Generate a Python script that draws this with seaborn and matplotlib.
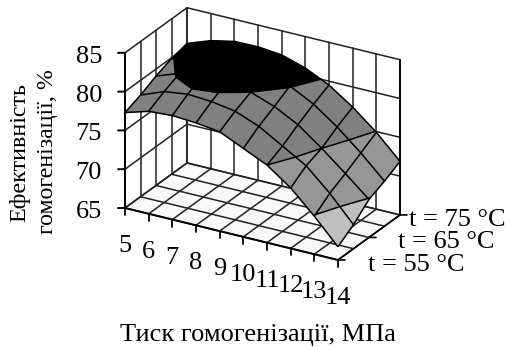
import numpy as np
import pandas as pd
import seaborn as sns
import matplotlib
matplotlib.use('Agg')
import matplotlib.pyplot as plt
from mpl_toolkits.mplot3d import proj3d
from mpl_toolkits.mplot3d.art3d import Poly3DCollection

pressure = [5, 6, 7, 8, 9, 10, 11, 12, 13, 14]
temps = [55, 60, 65, 70, 75]
temp_labels = {55: 't = 55 °C', 65: 't = 65 °C', 75: 't = 75 °C'}
eff_55 = [77.3, 78.2, 78.4, 78.2, 77.8, 76.4, 75.0, 72.8, 69.9, 66.7]
eff_60 = [78.1, 79.3, 79.7, 79.5, 79.0, 77.8, 76.0, 74.2, 71.4, 68.1]
eff_65 = [79.1, 80.2, 80.8, 80.6, 80.0, 78.9, 77.3, 75.0, 72.5, 69.9]
eff_70 = [79.9, 80.9, 81.5, 81.5, 81.1, 80.1, 78.5, 76.3, 73.7, 70.8]
eff_75 = [80.4, 81.5, 82.15, 82.2, 81.9, 80.95, 79.5, 77.4, 74.9, 71.9]
z_ticks = [65, 70, 75, 80, 85]
band_colors = ['#c0c0c0', '#969696', '#808080', '#000000']

df = pd.DataFrame([eff_55, eff_60, eff_65, eff_70, eff_75], index=temps, columns=pressure)

sns.set_theme(style='white')
plt.rcParams['font.family'] = ['Liberation Serif', 'DejaVu Serif']

fig = plt.figure(figsize=(5.06, 3.47), dpi=100)
ax = fig.add_axes([-0.3, -0.6, 1.6, 2.2], projection='3d', proj_type='ortho')
ax.computed_zorder = False
ax.set_axis_off()
ax.patch.set_alpha(0)
ax.view_init(elev=24.9, azim=-59.9)
aspect = (246, 123.6, 171)

GRID = '#222222'
LW = 1.1
x0, x1, t0, t1, z0, z1 = pressure[0], pressure[-1], temps[0], temps[-1], z_ticks[0], z_ticks[-1]


def clip(poly, lo, hi):
    # keep the part of a quad lying between two z levels
    for level, sign in ((lo, 1), (hi, -1)):
        out = []
        for a, b in zip(poly, poly[1:] + poly[:1]):
            da, db = sign * (a[2] - level), sign * (b[2] - level)
            if da >= 0:
                out.append(a)
            if da * db < 0:
                s = da / (da - db)
                out.append(tuple(a[k] + s * (b[k] - a[k]) for k in range(3)))
        poly = out
        if not poly:
            return []
    return poly


# floor
ax.add_collection3d(Poly3DCollection([[(x0, t0, z0), (x1, t0, z0), (x1, t1, z0), (x0, t1, z0)]],
                                     facecolor='#f8f8f8', edgecolor='none', zorder=1))
for x in pressure:
    ax.plot([x, x], [t0, t1], [z0, z0], color=GRID, lw=LW, zorder=2)
    ax.plot([x, x], [t1, t1], [z0, z1], color=GRID, lw=LW, zorder=2)
for t in temps:
    ax.plot([x0, x1], [t, t], [z0, z0], color=GRID, lw=LW, zorder=2)
    ax.plot([x0, x0], [t, t], [z0, z1], color=GRID, lw=LW, zorder=2)
for z in z_ticks:
    ax.plot([x0, x0], [t0, t1], [z, z], color=GRID, lw=LW, zorder=2)
    ax.plot([x0, x1], [t1, t1], [z, z], color=GRID, lw=LW, zorder=2)

# surface, split into z bands
values = df.to_numpy()
for b, col in enumerate(band_colors):
    polys = []
    for j in range(len(temps) - 1):
        for i in range(len(pressure) - 1):
            quad = [(pressure[i], temps[j], values[j, i]),
                    (pressure[i + 1], temps[j], values[j, i + 1]),
                    (pressure[i + 1], temps[j + 1], values[j + 1, i + 1]),
                    (pressure[i], temps[j + 1], values[j + 1, i])]
            p = clip(quad, z_ticks[b], z_ticks[b + 1])
            if len(p) > 2:
                polys.append(p)
    ax.add_collection3d(Poly3DCollection(polys, facecolor=col, edgecolor=col, linewidth=0.3, zorder=3))

X, T = np.meshgrid(pressure, temps)
ax.plot_wireframe(X, T, values, color='black', linewidth=LW, zorder=4)
ax.contour(X, T, values, levels=[70, 75, 80], colors='black', linewidths=LW, zorder=4)

# axis lines and ticks
ax.plot([x0, x0], [t0, t0], [z0, z1], color='black', lw=1.4, zorder=5)
ax.plot([x1, x1], [t1, t1], [z0, z1], color='black', lw=1.3, zorder=2)
ax.plot([x0, x1], [t0, t0], [z0, z0], color='black', lw=1.4, zorder=5)
ax.plot([x1, x1], [t0, t1], [z0, z0], color='black', lw=1.2, zorder=5)
for x in pressure:
    ax.plot([x, x], [t0, t0], [z0, z0 - 0.9], color='black', lw=1.3, zorder=5)
for z in z_ticks:
    ax.plot([x0, x0 - 0.22], [t0, t0 - 0.57], [z, z], color='black', lw=1.4, zorder=5)
for t in temp_labels:
    ax.plot([x1, x1 + 0.22], [t, t + 0.57], [z0, z0], color='black', lw=1.2, zorder=5)

ax.set_xlim(x0, x1)
ax.set_ylim(t0, t1)
ax.set_zlim(z0, z1)


def to_px(x, t, z):
    px, py, _ = proj3d.proj_transform(x, t, z, ax.get_proj())
    dx, dy = ax.transData.transform((px, py))
    return dx, 347 - dy


# fit the box onto the picture: front-left floor corner at (125, 208), back-right at (400, 216)
ax.set_box_aspect(aspect, zoom=1)
fig.canvas.draw()
span = to_px(x1, t1, z0)[0] - to_px(x0, t0, z0)[0]
ax.set_box_aspect(aspect, zoom=275 / span)
fig.canvas.draw()
px, py = to_px(x0, t0, z0)
pos = ax.get_position(original=True)
ax.set_position([pos.x0 + (125 - px) / 506, pos.y0 - (208 - py) / 347, pos.width, pos.height])
fig.canvas.draw()


def label(x, t, z, text, dx, dy, ha='center'):
    sx, sy = to_px(x, t, z)
    fig.text((sx + dx) / 506, 1 - (sy + dy) / 347, text, fontsize=19, ha=ha, va='center', color='black')


for x in pressure:
    label(x, t0, z0, str(x), 0, 38)
for z in z_ticks:
    label(x0, t0, z, str(z), -23, 4, ha='right')
label(x1, 55, z0, temp_labels[55], 30, 5, ha='left')
label(x1, 65, z0, temp_labels[65], 29, 5, ha='left')
label(x1, 75, z0, temp_labels[75], 9, 5, ha='left')

fig.text(258 / 506, 1 - 335 / 347, 'Тиск гомогенізації, МПа', fontsize=19, ha='center', va='center', color='black')
fig.text(20 / 506, 1 - 153 / 347, 'Ефективність', fontsize=17.4, rotation=90, ha='center', va='center', color='black')
fig.text(48 / 506, 1 - 152 / 347, 'гомогенізації, %', fontsize=17.2, rotation=90, ha='center', va='center', color='black')

fig.savefig('out.png', dpi=100)
